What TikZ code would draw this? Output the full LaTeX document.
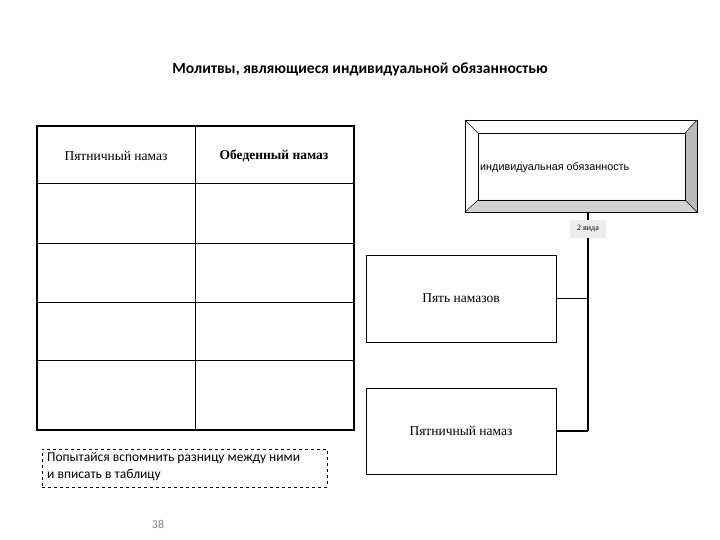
\documentclass[tikz,border=0pt]{standalone}
\usepackage{fontspec}
\setmainfont{Liberation Serif}
\newfontfamily\carlitofam{Carlito}
\newfontfamily\arsfam{Liberation Sans}
\begin{document}
\begin{tikzpicture}[x=1pt,y=-1pt,
  box/.style={draw,line width=0.8pt},
  tx/.style={font=\fontsize{13.5}{15}\selectfont}]
\useasboundingbox (0,0) rectangle (720,540);
\node[font=\carlitofam\bfseries\fontsize{15.5}{17}\selectfont] (title) at (360,69) {Молитвы, являющиеся индивидуальной обязанностью};
% table
\draw[line width=0.6pt] (195,126) -- (195,430);
\foreach \y in {183,243,302,360} \draw[line width=0.6pt] (37,\y) -- (354,\y);
\draw[line width=1.4pt] (37,126) rectangle (354,430);
\node[tx] (c1) at (116,156) {Пятничный намаз};
\node[tx,font=\bfseries\fontsize{13.5}{15}\selectfont] (c2) at (274,156) {Обеденный намаз};
% bevel box
\fill[gray!55] (697,120) -- (685,133) -- (685,200) -- (697,212) -- cycle;
\fill[gray!35] (465,212) -- (478,200) -- (685,200) -- (697,212) -- cycle;
\draw[line width=0.8pt] (465,120) rectangle (697,212);
\draw[line width=0.6pt] (478,133) rectangle (685,200);
\draw[line width=0.5pt] (465,120)--(478,133) (697,120)--(685,133) (465,212)--(478,200) (697,212)--(685,200);
\node[font=\arsfam\fontsize{10.8}{12}\selectfont,anchor=west,inner sep=1pt] (top) at (479,168) {индивидуальная обязанность};
\coordinate (tb) at (588,212);
\coordinate (vb) at (588,431);
\draw[line width=1.4pt] (tb) -- (vb);
\node[fill=gray!15,font=\fontsize{8}{9}\selectfont,inner sep=2pt,minimum width=36pt,minimum height=17pt] (lab) at (588,229) {2 вида};
\node[box,minimum width=190pt,minimum height=87pt] (b1) at (461,298.5) {};
\node[tx] at (461,298) {Пять намазов};
\node[box,minimum width=190pt,minimum height=86pt] (b2) at (461,431) {};
\node[tx] at (461,431) {Пятничный намаз};
\draw[line width=1.4pt] (b1.east) -- (588,298.5);
\draw[line width=1.4pt] (b2.east) -- (vb);
% note
\node[draw,dashed,minimum width=285pt,minimum height=38pt] (note) at (184.5,468) {};
\node[font=\carlitofam\fontsize{13.5}{17}\selectfont,align=left,anchor=west,inner sep=1pt] at (46,467) {Попытайся вспомнить разницу между ними\\и вписать в таблицу};
\node[font=\carlitofam\fontsize{12}{14}\selectfont,text=gray] (pg) at (158,524) {38};
\end{tikzpicture}
\end{document}
